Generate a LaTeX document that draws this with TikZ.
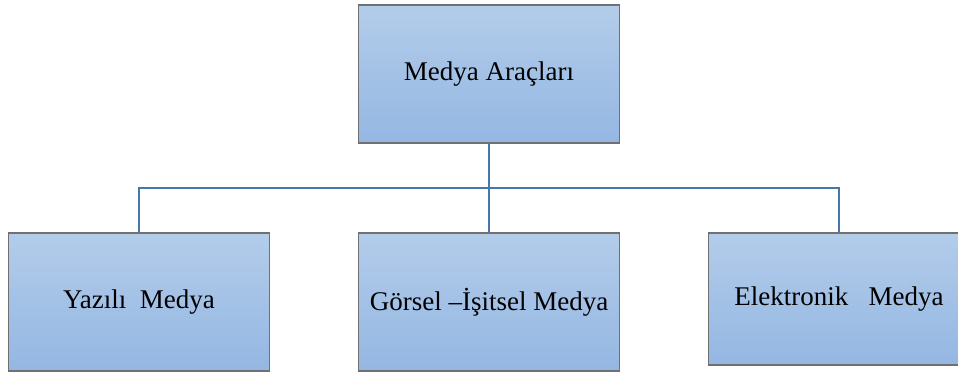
\documentclass[tikz,border=0pt]{standalone}
\usepackage{fontspec}
\setmainfont{Liberation Serif}
\definecolor{boxtop}{HTML}{B3CCEA}
\definecolor{boxbot}{HTML}{94B7E2}
\definecolor{boxline}{HTML}{707070}
\definecolor{connline}{HTML}{4676AC}
\begin{document}
\begin{tikzpicture}[x=0.5pt,y=-0.5pt,
  mbox/.style={rectangle, draw=boxline, line width=0.7pt, top color=boxtop, bottom color=boxbot,
    minimum width=130.5pt, minimum height=69pt, inner sep=0pt, font=\fontsize{13.5}{16}\selectfont},
  conn/.style={draw=connline, line width=1pt}]
\useasboundingbox (0,0) rectangle (958,373);
\clip (0,0) rectangle (958,373);
\node[mbox] (top) at (489,74) {Medya Araçları};
\node[mbox] (left) at (139,302) {Yazılı\ \ Medya};
\node[mbox] (mid) at (489,302) {Görsel –İşitsel Medya};
\node[mbox, minimum height=66pt] (right) at (839,299) {Elektronik\ \ \ Medya};
\coordinate (j) at (489,188);
\draw[conn] (top.south) -- (mid.north);
\draw[conn] (left.north) |- (j) -| (right.north);
\end{tikzpicture}
\end{document}
